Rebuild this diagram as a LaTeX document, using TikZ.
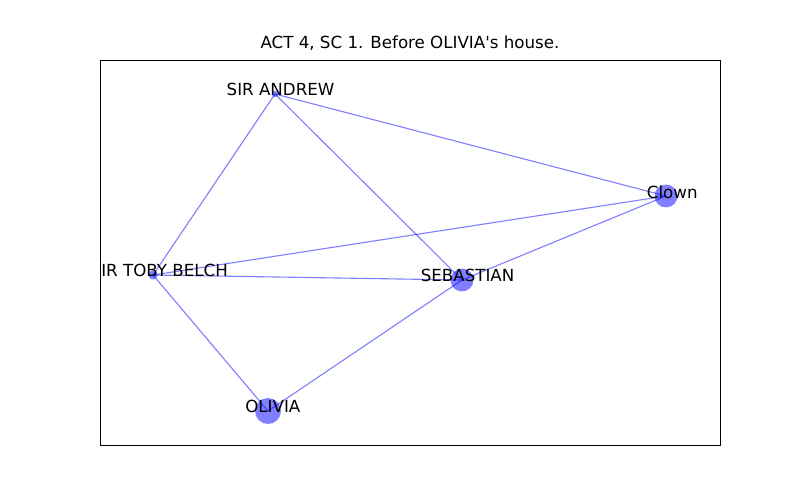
\documentclass[tikz,border=0pt]{standalone}
\usepackage{fontspec}
\setmainfont{DejaVu Sans}
\usetikzlibrary{backgrounds}

\begin{document}
\begin{tikzpicture}[
    x=0.72pt, y=-0.72pt,
    actor/.style = {circle, fill=blue, fill opacity=0.5, inner sep=0pt},
    link/.style = {draw=blue, draw opacity=0.5, line width=0.8pt},
    tag/.style = {font=\fontsize{12}{14}\selectfont, inner sep=0pt, yshift=3pt}
]
    \useasboundingbox (0,0) rectangle (800,500);

    % --- Personnages ---
    \node[actor, minimum size=4.5pt]  (andrew) at (275,94)  {};
    \node[actor, minimum size=16.5pt] (clown)  at (666,196) {};
    \node[actor, minimum size=6.5pt]  (toby)   at (153,275) {};
    \node[actor, minimum size=16.5pt] (sebast) at (462,280) {};
    \node[actor, minimum size=18.7pt] (olivia) at (268,411) {};

    % --- Liens ---
    \begin{scope}[on background layer]
        \draw[link] (andrew.center) -- (clown.center);
        \draw[link] (andrew.center) -- (toby.center);
        \draw[link] (andrew.center) -- (sebast.center);
        \draw[link] (toby.center) -- (clown.center);
        \draw[link] (toby.center) -- (sebast.center);
        \draw[link] (toby.center) -- (olivia.center);
        \draw[link] (sebast.center) -- (clown.center);
        \draw[link] (sebast.center) -- (olivia.center);
    \end{scope}

    % --- Noms (coupes au cadre) ---
    \begin{scope}
        \clip (100,60) rectangle (720,445);
        \node[tag, xshift=4pt] (andrewtag) at (andrew) {SIR ANDREW};
        \node[tag, xshift=4.5pt] (clowntag)  at (clown)  {Clown};
        \node[tag, xshift=4.5pt] (tobytag)   at (toby)   {SIR TOBY BELCH};
        \node[tag, xshift=4pt] (sebasttag) at (sebast) {SEBASTIAN};
        \node[tag, xshift=3.5pt] (oliviatag) at (olivia) {OLIVIA};
    \end{scope}

    % --- Cadre et titre ---
    \draw[line width=0.72pt] (100,60) rectangle (720,445);
    \node[tag, anchor=base, yshift=0pt] (title) at (410,52.5) {ACT 4, SC 1. Before OLIVIA\textquotesingle s house.};
\end{tikzpicture}
\end{document}
